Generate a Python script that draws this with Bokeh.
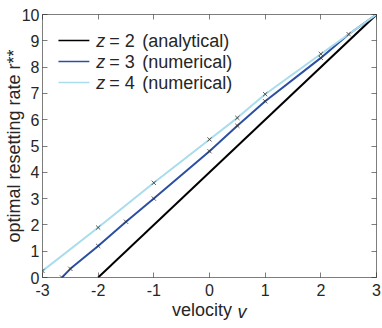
from bokeh.plotting import figure
from bokeh.models import Range1d, FixedTicker, LinearAxis, Label
from bokeh.embed import file_html
from bokeh.resources import INLINE

# ---- data ----
v_z2 = [-2, 3]
r_z2 = [0, 10]

v_z3 = [-2.65, -2.5, -2.0, -1.5, -1.0, 0.0, 0.5, 1.0, 2.0, 2.5, 3.0]
r_z3 = [0.0, 0.33, 1.2, 2.12, 3.0, 4.8, 5.77, 6.7, 8.35, 9.25, 10.0]
m_v_z3 = [-2.65, -2.5, -2.0, -1.5, -1.0, 0.0, 0.5, 1.0, 2.0, 2.5]
m_r_z3 = [0.0, 0.33, 1.2, 2.12, 3.0, 4.8, 5.77, 6.7, 8.35, 9.25]

v_z4 = [-3.0, -2.0, -1.0, 0.0, 0.5, 1.0, 2.0, 3.0]
r_z4 = [0.25, 1.9, 3.6, 5.25, 6.07, 6.97, 8.5, 10.0]
m_v_z4 = [-3.0, -2.0, -1.0, 0.0, 0.5, 1.0, 2.0]
m_r_z4 = [0.25, 1.9, 3.6, 5.25, 6.07, 6.97, 8.5]

x_ticks = [-3, -2, -1, 0, 1, 2, 3]
y_ticks = [0, 1, 2, 3, 4, 5, 6, 7, 8, 9, 10]
legend_main = ["= 2", "= 3", "= 4"]
legend_note = ["(analytical)", "(numerical)", "(numerical)"]
x_title = "velocity"
x_title_var = "v"
y_title = "optimal resetting rate r**"

C_BLACK = "#000000"
C_BLUE = "#2c4fa3"
C_CYAN = "#a9dcec"
C_AX = "#262626"
FONT = "Liberation Sans"

XMIN, XMAX, YMIN, YMAX = -3, 3, 0, 10
W, H = 382, 328
BL, BR, BT, BB = 41, 6, 14, 51
IW, IH = W - BL - BR, H - BT - BB

def sx(px):  # frame-relative pixel -> data x
    return XMIN + px * (XMAX - XMIN) / IW

def sy(py):  # frame-relative pixel (from top) -> data y
    return YMAX - py * (YMAX - YMIN) / IH

p = figure(width=W, height=H, output_backend="svg", toolbar_location=None,
           x_range=Range1d(XMIN, XMAX), y_range=Range1d(YMIN, YMAX),
           min_border_left=BL, min_border_right=BR, min_border_top=BT,
           min_border_bottom=BB, x_axis_location=None, y_axis_location=None)
p.grid.visible = False
p.outline_line_color = None
p.background_fill_color = "white"
p.border_fill_color = "white"

def make_axis(ticks, show_labels, standoff):
    ax = LinearAxis(ticker=FixedTicker(ticks=ticks, minor_ticks=[]))
    ax.axis_line_color = C_AX
    ax.axis_line_width = 0.6
    ax.major_tick_line_color = C_AX
    ax.major_tick_line_width = 0.6
    ax.major_tick_in = 5
    ax.major_tick_out = 0
    ax.minor_tick_line_color = None
    if show_labels:
        ax.major_label_text_font = FONT
        ax.major_label_text_font_size = "16px"
        ax.major_label_text_color = C_AX
        ax.major_label_standoff = standoff
        ax.major_label_overrides = {t: str(t) for t in ticks}
    else:
        ax.major_label_text_font_size = "0px"
        ax.major_label_standoff = 0
        ax.major_label_text_color = None
    return ax

xax = make_axis(x_ticks, True, 6)
p.add_layout(xax, "below")

yax = make_axis(y_ticks, True, 3)
yax.axis_label = y_title
yax.axis_label_text_font = FONT
yax.axis_label_text_font_size = "18px"
yax.axis_label_text_font_style = "normal"
yax.axis_label_text_color = C_AX
yax.axis_label_standoff = -5
p.add_layout(yax, "left")

p.add_layout(make_axis(x_ticks, False, 0), "above")
p.add_layout(make_axis(y_ticks, False, 0), "right")

# x title built from two label-only axes so that "v" can be italic
pos_title = sx(160)
pos_var = sx(200)
tax = LinearAxis(ticker=FixedTicker(ticks=[pos_title], minor_ticks=[]),
                 major_label_overrides={pos_title: x_title})
tax.axis_line_color = None
tax.major_tick_line_color = None
tax.minor_tick_line_color = None
tax.major_tick_in = 0
tax.major_tick_out = 0
tax.major_label_standoff = 1
tax.major_label_text_font = FONT
tax.major_label_text_font_size = "18px"
tax.major_label_text_color = C_AX
p.add_layout(tax, "below")

vax = LinearAxis(ticker=FixedTicker(ticks=[pos_var], minor_ticks=[]),
                 major_label_overrides={pos_var: x_title_var})
vax.axis_line_color = None
vax.major_tick_line_color = None
vax.minor_tick_line_color = None
vax.major_tick_in = 0
vax.major_tick_out = 0
vax.major_label_standoff = -21
vax.major_label_text_font = FONT
vax.major_label_text_font_size = "18px"
vax.major_label_text_font_style = "italic"
vax.major_label_text_color = C_AX
p.add_layout(vax, "below")

# ---- series ----
p.line(v_z2, r_z2, line_color=C_BLACK, line_width=2)
p.line(v_z3, r_z3, line_color=C_BLUE, line_width=2)
p.line(v_z4, r_z4, line_color=C_CYAN, line_width=2)
p.scatter(m_v_z3, m_r_z3, marker="x", size=6, line_color="#333333", line_width=1, line_alpha=0.8)
p.scatter(m_v_z4, m_r_z4, marker="x", size=6, line_color="#333333", line_width=1, line_alpha=0.8)

# ---- legend (manual, for italic z) ----
colors = [C_BLACK, C_BLUE, C_CYAN]
row_py = [26, 47, 68]
for i in range(3):
    y = sy(row_py[i])
    p.line([sx(16), sx(47)], [y, y], line_color=colors[i], line_width=1.5)
    p.add_layout(Label(x=sx(54), y=y, text="z", text_font=FONT, text_font_size="18px",
                       text_font_style="italic", text_color=C_AX, text_baseline="middle"))
    p.add_layout(Label(x=sx(67), y=y, text=legend_main[i], text_font=FONT, text_font_size="18px",
                       text_color=C_AX, text_baseline="middle"))
    p.add_layout(Label(x=sx(100), y=y, text=legend_note[i], text_font=FONT, text_font_size="18px",
                       text_color=C_AX, text_baseline="middle"))

open("out.html", "w").write(file_html(p, INLINE))
